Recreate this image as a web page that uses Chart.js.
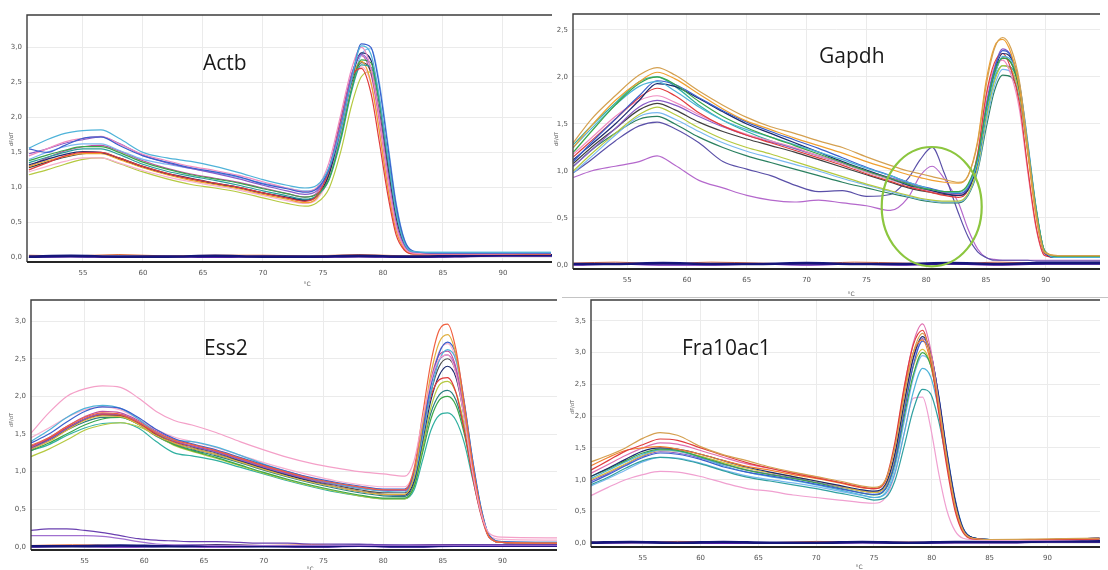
<!DOCTYPE html>
<html>
<head>
<meta charset="utf-8">
<title>Melt curves</title>
<script src="https://cdn.jsdelivr.net/npm/chart.js@4.4.1/dist/chart.umd.min.js"></script>
<style>
  html, body { margin: 0; padding: 0; background: #fff; }
  body { position: relative; width: 1108px; height: 570px; overflow: hidden; font-family: "DejaVu Sans", sans-serif; }
  .panel { position: absolute; }
  .lbl { position: absolute; font-size: 6px; color: #555; white-space: nowrap; transform: translate(-50%, -50%); }
  .rot { font-size: 5px; transform: translate(-50%, -50%) rotate(-90deg); }
  .rule { position: absolute; background: #c4c4c4; }
</style>
</head>
<body>

<div class="panel" style="left:0;top:0;width:553px;height:290px"><canvas id="actb"></canvas></div>
<div class="panel" style="left:553px;top:0;width:555px;height:298px"><canvas id="gapdh"></canvas></div>
<div class="panel" style="left:0;top:290px;width:560px;height:280px"><canvas id="ess2"></canvas></div>
<div class="panel" style="left:560px;top:290px;width:548px;height:280px"><canvas id="fra10ac1"></canvas></div>

<div class="rule" style="left:562px;top:297px;width:546px;height:1px"></div>

<div class="lbl rot" style="left:11px;top:139px">dF/dT</div>
<div class="lbl rot" style="left:556px;top:139px">dF/dT</div>
<div class="lbl rot" style="left:11px;top:420px">dF/dT</div>
<div class="lbl rot" style="left:572px;top:407px">dF/dT</div>
<div class="lbl" style="left:307px;top:283px">°C</div>
<div class="lbl" style="left:851px;top:293px">°C</div>
<div class="lbl" style="left:310px;top:568px">°C</div>
<div class="lbl" style="left:859px;top:566px">°C</div>

<script>
// negative controls share one temperature grid
const baseTemps = [50.5, 54, 58, 62, 66, 70, 74, 78, 82, 86, 90, 94.6];

// ---- Actb ----
const actbTemps = [50.5, 52, 53.5, 55, 56.5, 58, 60, 62, 64, 66, 68, 70, 72, 73.5,
                   74.5, 75.5, 76.5, 77.4, 78.2, 79, 79.7, 80.4, 81.1, 81.8, 82.5, 84, 88, 94];
const actbCurves = [
  [1.56, 1.68, 1.77, 1.81, 1.82, 1.70, 1.50, 1.42, 1.37, 1.30, 1.21, 1.11, 1.03, 0.99, 1.03, 1.28, 1.85, 2.55, 3.02, 2.90, 2.30, 1.45, 0.65, 0.20, 0.08, 0.07, 0.07, 0.07],
  [1.55, 1.50, 1.60, 1.70, 1.72, 1.60, 1.45, 1.36, 1.28, 1.22, 1.15, 1.05, 0.98, 0.93, 0.98, 1.25, 1.85, 2.55, 3.05, 3.00, 2.45, 1.60, 0.75, 0.24, 0.09, 0.06, 0.06, 0.06],
  [1.45, 1.55, 1.65, 1.70, 1.73, 1.62, 1.47, 1.38, 1.30, 1.24, 1.17, 1.08, 0.99, 0.94, 1.00, 1.35, 2.05, 2.70, 3.00, 2.70, 2.00, 1.15, 0.45, 0.14, 0.06, 0.05, 0.05, 0.06],
  [1.48, 1.55, 1.63, 1.68, 1.72, 1.63, 1.46, 1.35, 1.27, 1.20, 1.12, 1.03, 0.95, 0.90, 0.95, 1.28, 1.95, 2.62, 2.90, 2.70, 2.05, 1.22, 0.50, 0.16, 0.07, 0.06, 0.06, 0.06],
  [1.25, 1.35, 1.45, 1.50, 1.50, 1.42, 1.30, 1.20, 1.12, 1.06, 1.00, 0.92, 0.85, 0.80, 0.88, 1.25, 1.98, 2.58, 2.70, 2.35, 1.65, 0.90, 0.32, 0.10, 0.05, 0.05, 0.05, 0.05],
  [1.38, 1.46, 1.53, 1.58, 1.58, 1.50, 1.36, 1.26, 1.18, 1.12, 1.06, 0.98, 0.91, 0.86, 0.90, 1.12, 1.72, 2.42, 2.82, 2.78, 2.25, 1.45, 0.66, 0.21, 0.08, 0.06, 0.06, 0.06],
  [1.35, 1.43, 1.50, 1.55, 1.55, 1.47, 1.33, 1.23, 1.16, 1.10, 1.03, 0.95, 0.88, 0.83, 0.88, 1.10, 1.68, 2.38, 2.75, 2.72, 2.22, 1.45, 0.66, 0.21, 0.08, 0.06, 0.06, 0.06],
  [1.32, 1.40, 1.47, 1.51, 1.50, 1.42, 1.30, 1.20, 1.13, 1.06, 1.00, 0.92, 0.86, 0.82, 0.88, 1.18, 1.85, 2.55, 2.92, 2.82, 2.22, 1.40, 0.62, 0.19, 0.07, 0.06, 0.06, 0.06],
  [1.30, 1.38, 1.44, 1.48, 1.48, 1.40, 1.28, 1.18, 1.10, 1.04, 0.98, 0.90, 0.83, 0.78, 0.85, 1.20, 1.90, 2.55, 2.80, 2.50, 1.80, 1.00, 0.38, 0.11, 0.05, 0.05, 0.05, 0.05],
  [1.22, 1.30, 1.37, 1.42, 1.42, 1.35, 1.24, 1.15, 1.08, 1.02, 0.96, 0.88, 0.81, 0.77, 0.83, 1.14, 1.82, 2.45, 2.72, 2.48, 1.82, 1.02, 0.40, 0.12, 0.05, 0.05, 0.05, 0.05],
  [1.18, 1.25, 1.33, 1.40, 1.42, 1.34, 1.22, 1.12, 1.04, 0.99, 0.93, 0.85, 0.77, 0.73, 0.78, 0.98, 1.52, 2.18, 2.58, 2.65, 2.20, 1.45, 0.68, 0.22, 0.08, 0.06, 0.06, 0.06],
  [1.28, 1.36, 1.43, 1.48, 1.49, 1.41, 1.29, 1.19, 1.12, 1.05, 0.99, 0.92, 0.85, 0.81, 0.87, 1.16, 1.82, 2.48, 2.78, 2.65, 2.08, 1.30, 0.56, 0.17, 0.07, 0.06, 0.06, 0.06],
  [1.40, 1.50, 1.58, 1.62, 1.62, 1.53, 1.40, 1.33, 1.27, 1.21, 1.14, 1.06, 0.99, 0.95, 0.98, 1.18, 1.75, 2.45, 2.90, 2.98, 2.50, 1.65, 0.78, 0.25, 0.09, 0.07, 0.07, 0.07],
  [1.30, 1.42, 1.52, 1.58, 1.60, 1.52, 1.38, 1.27, 1.19, 1.13, 1.07, 0.99, 0.91, 0.86, 0.92, 1.25, 1.95, 2.62, 2.88, 2.62, 1.95, 1.12, 0.44, 0.13, 0.06, 0.05, 0.05, 0.05]
];
const actbBlank = [
  [0.01, 0.02, 0.01, 0.01, 0.02, 0.01, 0.01, 0.02, 0.01, 0.02, 0.03, 0.03],
  [0.00, 0.01, 0.00, 0.01, 0.00, 0.01, 0.00, 0.01, 0.00, 0.01, 0.02, 0.02],
  [0.03, 0.02, 0.04, 0.02, 0.03, 0.03, 0.02, 0.04, 0.02, 0.03, 0.03, 0.04]
];

// ---- Gapdh ----
const gapdhTemps = [50.5, 52, 54, 56, 57.5, 59, 61, 63, 65, 67, 69, 71, 73, 75, 77, 78.5, 79.5, 80.5, 81.5, 82.7,
                    83.5, 84.3, 85, 85.7, 86.4, 87.1, 87.8, 88.5, 89.2, 89.9, 91, 94.6];
const gapdhCurves = [
  [1.30, 1.55, 1.80, 2.02, 2.10, 2.02, 1.85, 1.70, 1.57, 1.47, 1.40, 1.32, 1.25, 1.15, 1.06, 1.00, 0.97, 0.94, 0.91, 0.88, 0.95, 1.30, 1.90, 2.30, 2.42, 2.30, 1.95, 1.25, 0.55, 0.14, 0.10, 0.10],
  [1.25, 1.48, 1.75, 1.95, 2.05, 1.98, 1.82, 1.66, 1.53, 1.44, 1.35, 1.27, 1.19, 1.10, 1.02, 0.96, 0.93, 0.90, 0.88, 0.87, 0.95, 1.32, 1.95, 2.32, 2.40, 2.25, 1.88, 1.18, 0.50, 0.13, 0.10, 0.10],
  [1.20, 1.42, 1.70, 1.93, 2.00, 1.92, 1.74, 1.58, 1.46, 1.36, 1.27, 1.18, 1.09, 1.00, 0.92, 0.86, 0.82, 0.80, 0.78, 0.78, 0.86, 1.15, 1.65, 2.05, 2.20, 2.15, 1.88, 1.25, 0.58, 0.15, 0.09, 0.09],
  [1.25, 1.45, 1.70, 1.90, 1.95, 1.85, 1.68, 1.54, 1.44, 1.36, 1.28, 1.20, 1.12, 1.03, 0.95, 0.88, 0.84, 0.80, 0.78, 0.77, 0.84, 1.10, 1.60, 2.00, 2.22, 2.18, 1.92, 1.30, 0.60, 0.15, 0.08, 0.08],
  [1.10, 1.30, 1.55, 1.80, 1.96, 1.92, 1.78, 1.64, 1.52, 1.42, 1.33, 1.24, 1.14, 1.04, 0.95, 0.88, 0.84, 0.81, 0.78, 0.76, 0.82, 1.12, 1.65, 2.08, 2.28, 2.22, 1.92, 1.28, 0.58, 0.14, 0.08, 0.08],
  [1.12, 1.28, 1.50, 1.75, 1.93, 1.90, 1.77, 1.63, 1.50, 1.40, 1.30, 1.20, 1.10, 1.01, 0.92, 0.85, 0.82, 0.79, 0.76, 0.74, 0.80, 1.10, 1.62, 2.05, 2.25, 2.20, 1.90, 1.25, 0.56, 0.13, 0.08, 0.08],
  [1.15, 1.32, 1.55, 1.78, 1.88, 1.80, 1.62, 1.48, 1.38, 1.30, 1.22, 1.14, 1.06, 0.97, 0.89, 0.83, 0.80, 0.77, 0.74, 0.72, 0.80, 1.18, 1.80, 2.15, 2.25, 2.08, 1.72, 1.02, 0.40, 0.10, 0.08, 0.08],
  [1.18, 1.35, 1.58, 1.75, 1.80, 1.73, 1.60, 1.48, 1.39, 1.32, 1.25, 1.16, 1.08, 0.99, 0.91, 0.85, 0.81, 0.78, 0.76, 0.75, 0.83, 1.18, 1.78, 2.10, 2.18, 2.02, 1.65, 0.98, 0.38, 0.10, 0.08, 0.08],
  [1.05, 1.22, 1.45, 1.68, 1.75, 1.70, 1.58, 1.47, 1.38, 1.31, 1.24, 1.16, 1.08, 1.00, 0.93, 0.87, 0.83, 0.80, 0.77, 0.75, 0.82, 1.12, 1.70, 2.10, 2.30, 2.22, 1.90, 1.22, 0.52, 0.12, 0.08, 0.08],
  [1.08, 1.25, 1.45, 1.65, 1.72, 1.65, 1.52, 1.42, 1.34, 1.27, 1.20, 1.12, 1.04, 0.96, 0.88, 0.82, 0.79, 0.77, 0.75, 0.74, 0.80, 1.10, 1.62, 2.02, 2.20, 2.15, 1.86, 1.22, 0.55, 0.13, 0.08, 0.08],
  [1.00, 1.18, 1.40, 1.60, 1.68, 1.60, 1.46, 1.34, 1.25, 1.18, 1.10, 1.02, 0.94, 0.86, 0.79, 0.74, 0.71, 0.69, 0.68, 0.68, 0.76, 1.05, 1.55, 1.95, 2.12, 2.08, 1.82, 1.20, 0.55, 0.14, 0.08, 0.08],
  [0.98, 1.15, 1.38, 1.58, 1.62, 1.55, 1.42, 1.30, 1.21, 1.14, 1.07, 1.00, 0.92, 0.85, 0.78, 0.73, 0.70, 0.68, 0.67, 0.67, 0.75, 1.02, 1.50, 1.90, 2.08, 2.05, 1.80, 1.20, 0.56, 0.14, 0.08, 0.08],
  [1.05, 1.22, 1.40, 1.55, 1.58, 1.50, 1.36, 1.25, 1.16, 1.09, 1.02, 0.95, 0.88, 0.82, 0.76, 0.72, 0.69, 0.67, 0.66, 0.66, 0.74, 1.00, 1.45, 1.85, 2.02, 2.00, 1.78, 1.20, 0.58, 0.15, 0.08, 0.08],
  [1.28, 1.48, 1.72, 1.95, 2.00, 1.90, 1.70, 1.54, 1.42, 1.32, 1.24, 1.16, 1.08, 0.99, 0.91, 0.85, 0.81, 0.78, 0.76, 0.75, 0.83, 1.10, 1.58, 1.98, 2.12, 2.10, 1.86, 1.26, 0.60, 0.15, 0.09, 0.09],
  // two wells with a primer-dimer peak near 80 °C
  [0.98, 1.12, 1.32, 1.48, 1.52, 1.45, 1.30, 1.10, 1.02, 0.95, 0.85, 0.78, 0.79, 0.73, 0.75, 0.92, 1.12, 1.25, 0.98, 0.55, 0.30, 0.14, 0.08, 0.05, 0.05, 0.05, 0.05, 0.05, 0.04, 0.04, 0.04, 0.04],
  [0.93, 1.00, 1.05, 1.10, 1.16, 1.06, 0.90, 0.82, 0.74, 0.69, 0.67, 0.69, 0.66, 0.63, 0.58, 0.72, 0.95, 1.05, 0.92, 0.66, 0.38, 0.17, 0.08, 0.06, 0.05, 0.05, 0.05, 0.05, 0.05, 0.05, 0.05, 0.05]
];
const gapdhBlank = [
  [0.01, 0.01, 0.02, 0.01, 0.01, 0.02, 0.01, 0.01, 0.02, 0.01, 0.02, 0.02],
  [0.00, 0.01, 0.00, 0.00, 0.01, 0.00, 0.01, 0.00, 0.01, 0.00, 0.01, 0.01],
  [0.02, 0.03, 0.01, 0.03, 0.02, 0.01, 0.03, 0.02, 0.01, 0.03, 0.02, 0.03]
];
// circled region: centre (°C, dF/dT) and half-axes
const gapdhRing = { x: 80.46, y: 0.62, rx: 4.18, ry: 0.635 };

// ---- Ess2 ----
const ess2Temps = [50.5, 52, 53.5, 55, 56.5, 58, 59.5, 61, 62.5, 64, 66, 68, 70, 72, 74, 76, 78, 80, 81.8,
                   82.6, 83.3, 84, 84.7, 85.4, 86.1, 86.8, 87.5, 88.2, 88.9, 90, 94.6];
const ess2Curves = [
  [1.51, 1.78, 2.00, 2.10, 2.14, 2.12, 1.98, 1.80, 1.68, 1.62, 1.52, 1.40, 1.29, 1.19, 1.11, 1.05, 1.00, 0.97, 0.94, 1.15, 1.70, 2.20, 2.50, 2.55, 2.30, 1.70, 0.98, 0.45, 0.18, 0.13, 0.12],
  [1.35, 1.45, 1.60, 1.72, 1.78, 1.76, 1.66, 1.52, 1.42, 1.36, 1.28, 1.18, 1.08, 0.99, 0.91, 0.85, 0.80, 0.76, 0.76, 1.05, 1.75, 2.45, 2.88, 2.96, 2.62, 1.90, 1.10, 0.48, 0.13, 0.06, 0.05],
  [1.30, 1.40, 1.55, 1.68, 1.74, 1.73, 1.63, 1.48, 1.38, 1.31, 1.23, 1.13, 1.03, 0.94, 0.86, 0.80, 0.74, 0.70, 0.70, 0.95, 1.62, 2.30, 2.72, 2.82, 2.55, 1.85, 1.08, 0.48, 0.13, 0.06, 0.05],
  [1.38, 1.50, 1.66, 1.80, 1.86, 1.84, 1.72, 1.56, 1.44, 1.37, 1.29, 1.19, 1.09, 1.00, 0.92, 0.86, 0.81, 0.77, 0.77, 0.98, 1.55, 2.15, 2.58, 2.72, 2.55, 1.92, 1.15, 0.52, 0.15, 0.07, 0.06],
  [1.40, 1.55, 1.72, 1.84, 1.88, 1.84, 1.70, 1.52, 1.42, 1.40, 1.33, 1.22, 1.10, 1.00, 0.91, 0.84, 0.78, 0.74, 0.73, 0.92, 1.45, 2.05, 2.48, 2.62, 2.48, 1.90, 1.15, 0.52, 0.15, 0.07, 0.06],
  [1.32, 1.45, 1.60, 1.73, 1.80, 1.78, 1.68, 1.54, 1.43, 1.36, 1.28, 1.18, 1.08, 0.99, 0.91, 0.85, 0.79, 0.76, 0.76, 1.00, 1.62, 2.22, 2.55, 2.60, 2.38, 1.78, 1.05, 0.46, 0.13, 0.06, 0.05],
  [1.30, 1.42, 1.57, 1.70, 1.77, 1.76, 1.66, 1.52, 1.41, 1.34, 1.26, 1.16, 1.06, 0.97, 0.89, 0.83, 0.78, 0.75, 0.75, 0.98, 1.58, 2.15, 2.48, 2.55, 2.35, 1.78, 1.06, 0.47, 0.13, 0.06, 0.05],
  [1.33, 1.44, 1.58, 1.70, 1.76, 1.75, 1.64, 1.50, 1.40, 1.34, 1.27, 1.17, 1.07, 0.98, 0.90, 0.84, 0.79, 0.75, 0.75, 0.95, 1.50, 2.00, 2.22, 2.25, 2.05, 1.55, 0.92, 0.42, 0.12, 0.06, 0.05],
  [1.30, 1.42, 1.56, 1.69, 1.75, 1.74, 1.64, 1.49, 1.38, 1.31, 1.23, 1.14, 1.04, 0.95, 0.87, 0.80, 0.74, 0.70, 0.69, 0.88, 1.40, 1.95, 2.28, 2.40, 2.25, 1.72, 1.04, 0.47, 0.13, 0.06, 0.05],
  [1.28, 1.38, 1.50, 1.62, 1.70, 1.72, 1.63, 1.48, 1.36, 1.28, 1.19, 1.09, 0.99, 0.90, 0.82, 0.75, 0.69, 0.65, 0.65, 0.80, 1.25, 1.70, 1.95, 2.00, 1.88, 1.50, 0.95, 0.45, 0.14, 0.06, 0.05],
  [1.20, 1.30, 1.42, 1.55, 1.62, 1.65, 1.60, 1.48, 1.35, 1.27, 1.18, 1.08, 0.98, 0.89, 0.81, 0.74, 0.68, 0.64, 0.64, 0.82, 1.32, 1.85, 2.15, 2.20, 2.05, 1.62, 1.00, 0.47, 0.14, 0.06, 0.05],
  [1.28, 1.36, 1.48, 1.58, 1.64, 1.65, 1.58, 1.40, 1.25, 1.21, 1.15, 1.06, 0.97, 0.88, 0.80, 0.73, 0.68, 0.64, 0.64, 0.76, 1.15, 1.55, 1.75, 1.78, 1.68, 1.38, 0.90, 0.44, 0.14, 0.06, 0.05],
  [1.32, 1.42, 1.55, 1.66, 1.72, 1.72, 1.63, 1.47, 1.36, 1.29, 1.21, 1.12, 1.02, 0.93, 0.85, 0.78, 0.72, 0.68, 0.67, 0.84, 1.32, 1.78, 2.02, 2.08, 1.95, 1.55, 0.98, 0.46, 0.14, 0.06, 0.05],
  [1.33, 1.44, 1.58, 1.70, 1.76, 1.75, 1.65, 1.51, 1.40, 1.33, 1.25, 1.15, 1.05, 0.96, 0.88, 0.82, 0.76, 0.72, 0.72, 0.93, 1.48, 2.05, 2.40, 2.50, 2.32, 1.75, 1.05, 0.47, 0.13, 0.06, 0.05],
  [1.45, 1.58, 1.72, 1.82, 1.86, 1.82, 1.70, 1.56, 1.46, 1.40, 1.32, 1.22, 1.12, 1.03, 0.95, 0.88, 0.83, 0.80, 0.80, 1.02, 1.60, 2.20, 2.60, 2.70, 2.48, 1.85, 1.10, 0.50, 0.15, 0.10, 0.09],
  // low drifting wells
  [0.22, 0.24, 0.24, 0.22, 0.19, 0.15, 0.11, 0.09, 0.08, 0.07, 0.07, 0.06, 0.05, 0.05, 0.04, 0.04, 0.04, 0.03, 0.03, 0.03, 0.03, 0.03, 0.03, 0.03, 0.03, 0.03, 0.03, 0.03, 0.03, 0.03, 0.03],
  [0.15, 0.15, 0.15, 0.15, 0.14, 0.11, 0.07, 0.04, 0.03, 0.03, 0.02, 0.02, 0.02, 0.02, 0.02, 0.02, 0.02, 0.02, 0.02, 0.02, 0.02, 0.02, 0.02, 0.02, 0.02, 0.02, 0.02, 0.02, 0.02, 0.02, 0.02]
];
const ess2Blank = [
  [0.01, 0.01, 0.02, 0.01, 0.02, 0.01, 0.01, 0.02, 0.01, 0.02, 0.02, 0.02],
  [0.00, 0.01, 0.00, 0.01, 0.00, 0.01, 0.00, 0.01, 0.00, 0.01, 0.01, 0.01],
  [0.02, 0.03, 0.02, 0.01, 0.03, 0.02, 0.03, 0.01, 0.02, 0.03, 0.02, 0.03]
];

// ---- Fra10ac1 ----
const fraTemps = [50.5, 52, 53.5, 55, 56.5, 58, 60, 62, 64, 66, 68, 70, 72, 74, 75,
                  76, 76.8, 77.6, 78.4, 79.2, 79.9, 80.6, 81.3, 82, 82.7, 83.5, 85, 90, 94.5];
const fraCurves = [
  [1.28, 1.38, 1.50, 1.65, 1.74, 1.70, 1.52, 1.39, 1.30, 1.20, 1.12, 1.05, 0.98, 0.90, 0.88, 1.00, 1.50, 2.30, 3.00, 3.30, 2.95, 2.20, 1.35, 0.62, 0.21, 0.08, 0.06, 0.07, 0.08],
  [1.15, 1.30, 1.45, 1.55, 1.64, 1.62, 1.50, 1.38, 1.27, 1.18, 1.10, 1.03, 0.96, 0.88, 0.86, 1.00, 1.58, 2.45, 3.12, 3.35, 2.90, 2.05, 1.20, 0.52, 0.17, 0.07, 0.06, 0.06, 0.07],
  [1.22, 1.35, 1.46, 1.50, 1.52, 1.48, 1.40, 1.30, 1.21, 1.15, 1.08, 1.02, 0.95, 0.87, 0.86, 0.98, 1.52, 2.38, 3.00, 3.20, 2.85, 2.12, 1.28, 0.58, 0.19, 0.08, 0.06, 0.06, 0.07],
  [1.10, 1.24, 1.38, 1.50, 1.58, 1.56, 1.46, 1.35, 1.25, 1.18, 1.11, 1.04, 0.96, 0.88, 0.86, 0.98, 1.52, 2.42, 3.15, 3.45, 3.05, 2.22, 1.32, 0.60, 0.20, 0.08, 0.06, 0.06, 0.07],
  [1.05, 1.18, 1.32, 1.45, 1.50, 1.48, 1.40, 1.30, 1.20, 1.12, 1.05, 0.98, 0.91, 0.84, 0.82, 0.93, 1.40, 2.20, 2.92, 3.25, 3.00, 2.30, 1.42, 0.68, 0.23, 0.09, 0.06, 0.06, 0.08],
  [0.95, 1.08, 1.22, 1.35, 1.42, 1.40, 1.32, 1.20, 1.12, 1.06, 1.00, 0.93, 0.86, 0.79, 0.77, 0.86, 1.28, 2.05, 2.80, 3.18, 2.98, 2.32, 1.45, 0.70, 0.24, 0.09, 0.06, 0.06, 0.08],
  [1.05, 1.17, 1.30, 1.42, 1.48, 1.46, 1.36, 1.25, 1.15, 1.08, 1.02, 0.95, 0.87, 0.79, 0.76, 0.85, 1.25, 1.98, 2.65, 3.00, 2.80, 2.20, 1.40, 0.68, 0.23, 0.09, 0.06, 0.06, 0.07],
  [1.02, 1.15, 1.28, 1.40, 1.47, 1.45, 1.35, 1.22, 1.12, 1.05, 0.99, 0.92, 0.84, 0.76, 0.72, 0.78, 1.10, 1.72, 2.38, 2.75, 2.62, 2.10, 1.35, 0.66, 0.23, 0.09, 0.06, 0.06, 0.07],
  [0.92, 1.04, 1.18, 1.30, 1.35, 1.33, 1.25, 1.14, 1.04, 0.98, 0.92, 0.86, 0.79, 0.72, 0.68, 0.72, 0.98, 1.52, 2.10, 2.42, 2.35, 1.92, 1.28, 0.65, 0.23, 0.09, 0.06, 0.06, 0.07],
  [0.75, 0.88, 1.00, 1.08, 1.13, 1.12, 1.05, 0.95, 0.86, 0.82, 0.76, 0.72, 0.68, 0.64, 0.63, 0.72, 1.08, 1.72, 2.28, 2.30, 1.82, 1.10, 0.52, 0.20, 0.08, 0.06, 0.05, 0.05, 0.06],
  [1.00, 1.12, 1.25, 1.38, 1.46, 1.45, 1.37, 1.27, 1.18, 1.11, 1.05, 0.98, 0.90, 0.82, 0.80, 0.90, 1.35, 2.12, 2.78, 3.05, 2.80, 2.15, 1.32, 0.62, 0.21, 0.08, 0.06, 0.06, 0.07],
  [0.98, 1.10, 1.24, 1.37, 1.44, 1.42, 1.34, 1.24, 1.15, 1.09, 1.03, 0.96, 0.89, 0.82, 0.80, 0.90, 1.38, 2.18, 2.90, 3.22, 3.00, 2.30, 1.42, 0.68, 0.23, 0.09, 0.06, 0.06, 0.08],
  [0.90, 1.02, 1.15, 1.28, 1.35, 1.34, 1.26, 1.15, 1.06, 1.00, 0.95, 0.89, 0.82, 0.75, 0.72, 0.80, 1.18, 1.90, 2.60, 2.95, 2.82, 2.25, 1.45, 0.72, 0.25, 0.09, 0.06, 0.06, 0.07]
];
const fraBlank = [
  [0.01, 0.02, 0.01, 0.02, 0.01, 0.01, 0.02, 0.01, 0.02, 0.02, 0.03, 0.03],
  [0.00, 0.01, 0.01, 0.00, 0.01, 0.00, 0.01, 0.00, 0.01, 0.01, 0.02, 0.02],
  [0.02, 0.01, 0.03, 0.02, 0.01, 0.03, 0.02, 0.02, 0.01, 0.02, 0.03, 0.02]
];

// line colours, one per well
const actbColors  = ['#4fb3d9', '#3a5fcd', '#f08cc0', '#8a5cc8', '#e03c3c', '#3aa64a', '#2a9d9a',
                     '#1c2a6e', '#f0a030', '#f7b0d0', '#b5c940', '#404040', '#7ab8f0', '#c050a0'];
const gapdhColors = ['#d4a050', '#f0a030', '#3aa64a', '#4fb3d9', '#3a5fcd', '#1c2a6e', '#e03c3c', '#f08cc0',
                     '#8a5cc8', '#404040', '#b5c940', '#7ab8f0', '#2a8060', '#30b0a0', '#5a50a8', '#b468cc'];
const ess2Colors  = ['#f4a0c8', '#f06040', '#e0b040', '#3a5fcd', '#4fb3d9', '#c050a0', '#8a5cc8', '#e03c3c',
                     '#1c2a6e', '#3aa64a', '#b5c940', '#30b0a0', '#2a8080', '#505050', '#f7b0d0', '#6a40b0', '#a070d0'];
const fraColors   = ['#d4a050', '#e03c3c', '#f08030', '#e070b0', '#1c2a6e', '#3a5fcd', '#3aa64a',
                     '#4fb3d9', '#30a0a0', '#f0a0d0', '#d8c040', '#8a5cc8', '#7ab8f0'];
const blankColors = ['#16167a', '#6a22b8', '#e0703a'];
const blankWidths = [2.6, 1.6, 1.0];

// draws the plot frame: left and top edges, heavier x axis line
const framePlugin = {
  id: 'frame',
  afterDatasetsDraw(chart) {
    const { ctx, chartArea: a } = chart;
    ctx.save();
    ctx.strokeStyle = '#3c3c3c';
    ctx.lineWidth = 1.4;
    ctx.beginPath();
    ctx.moveTo(a.left, a.bottom);
    ctx.lineTo(a.left, a.top);
    ctx.lineTo(a.right, a.top);
    ctx.stroke();
    ctx.strokeStyle = '#262626';
    ctx.lineWidth = 2.2;
    ctx.beginPath();
    ctx.moveTo(a.left, a.bottom);
    ctx.lineTo(a.right, a.bottom);
    ctx.stroke();
    ctx.restore();
  }
};

// gene name written inside the plot
const namePlugin = {
  id: 'geneName',
  afterDraw(chart, args, opts) {
    if (!opts.text) return;
    const ctx = chart.ctx;
    ctx.save();
    ctx.font = '21px "Open Sans", sans-serif';
    ctx.fillStyle = '#1a1a1a';
    ctx.textAlign = 'left';
    ctx.textBaseline = 'alphabetic';
    ctx.fillText(opts.text, opts.at[0], opts.at[1]);
    ctx.restore();
  }
};

// green ring drawn in data units
const ringPlugin = {
  id: 'ring',
  afterDatasetsDraw(chart, args, opts) {
    if (!opts.mark) return;
    const { ctx, scales: { x, y } } = chart;
    const m = opts.mark;
    const cx = x.getPixelForValue(m.x), cy = y.getPixelForValue(m.y);
    const rx = Math.abs(x.getPixelForValue(m.x + m.rx) - cx);
    const ry = Math.abs(y.getPixelForValue(m.y + m.ry) - cy);
    ctx.save();
    ctx.strokeStyle = '#8cc63f';
    ctx.lineWidth = 2.2;
    ctx.beginPath();
    ctx.ellipse(cx, cy, rx, ry, 0, 0, Math.PI * 2);
    ctx.stroke();
    ctx.restore();
  }
};

const meltChart = (id, p) => {
  const datasets = p.curves.map((vals, i) => ({
    data: vals.map((v, k) => ({ x: p.temps[k], y: v })),
    borderColor: p.colors[i % p.colors.length],
    borderWidth: 1.2
  }));
  p.blank.forEach((vals, i) => {
    datasets.push({
      data: vals.map((v, k) => ({ x: baseTemps[k], y: v })),
      borderColor: blankColors[i],
      borderWidth: blankWidths[i]
    });
  });

  new Chart(id, {
    type: 'line',
    data: { datasets },
    options: {
      responsive: true,
      maintainAspectRatio: false,
      animation: false,
      events: [],
      layout: { padding: { top: p.padTop, right: p.padRight, left: 0, bottom: 0 } },
      elements: {
        point: { radius: 0 },
        line: { cubicInterpolationMode: 'monotone' }
      },
      plugins: {
        legend: { display: false },
        tooltip: { enabled: false },
        geneName: { text: p.name, at: p.nameAt },
        ring: { mark: p.ring }
      },
      scales: {
        x: {
          type: 'linear',
          min: p.xRange[0],
          max: p.xRange[1],
          afterFit: s => { s.height = p.axisH; },
          grid: { color: '#ebebeb', drawTicks: false },
          border: { display: false },
          ticks: {
            stepSize: 5, includeBounds: false, maxRotation: 0, padding: 7,
            color: '#555', font: { family: 'DejaVu Sans', size: 7 }
          }
        },
        y: {
          type: 'linear',
          min: p.yRange[0],
          max: p.yRange[1],
          afterFit: s => { s.width = p.axisW; },
          grid: { color: '#ebebeb', drawTicks: false },
          border: { display: false },
          ticks: {
            stepSize: 0.5, includeBounds: false, padding: 5,
            color: '#555', font: { family: 'DejaVu Sans', size: 7 },
            callback: v => v.toFixed(1).replace('.', ',')
          }
        }
      }
    },
    plugins: [framePlugin, namePlugin, ringPlugin]
  });
};

meltChart('actb', {
  name: 'Actb', nameAt: [203, 70],
  temps: actbTemps, curves: actbCurves, blank: actbBlank, colors: actbColors,
  xRange: [50.34, 94.09], yRange: [-0.067, 3.462],
  padTop: 15, padRight: 1, axisW: 27, axisH: 28
});
meltChart('gapdh', {
  name: 'Gapdh', nameAt: [266, 63],
  temps: gapdhTemps, curves: gapdhCurves, blank: gapdhBlank, colors: gapdhColors, ring: gapdhRing,
  xRange: [50.47, 94.53], yRange: [-0.043, 2.67],
  padTop: 14, padRight: 8, axisW: 20, axisH: 29
});
meltChart('ess2', {
  name: 'Ess2', nameAt: [204, 65],
  temps: ess2Temps, curves: ess2Curves, blank: ess2Blank, colors: ess2Colors,
  xRange: [50.51, 94.56], yRange: [-0.04, 3.28],
  padTop: 10, padRight: 3, axisW: 31, axisH: 20
});
meltChart('fra10ac1', {
  name: 'Fra10ac1', nameAt: [122, 65],
  temps: fraTemps, curves: fraCurves, blank: fraBlank, colors: fraColors,
  xRange: [50.52, 94.55], yRange: [-0.058, 3.826],
  padTop: 10, padRight: 8, axisW: 31, axisH: 23
});
</script>
</body>
</html>
